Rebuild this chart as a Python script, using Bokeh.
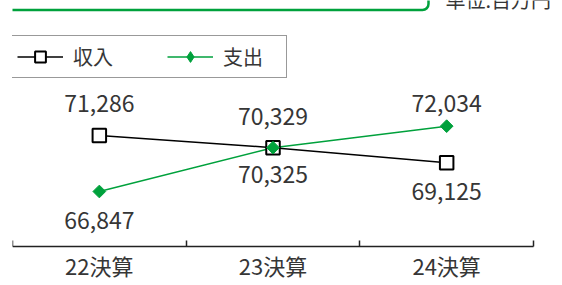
import math
from bokeh.plotting import figure
from bokeh.models import (Range1d, FixedTicker, ColumnDataSource, Legend, LegendItem,
                          BoxAnnotation, Label, LinearAxis)
from bokeh.core.properties import value
from bokeh.embed import file_html
from bokeh.resources import INLINE

# ---- data ----
categories = ["22決算", "23決算", "24決算"]
revenue = [71286, 70329, 69125]
expenditure = [66847, 70325, 72034]
series_names = ["収入", "支出"]
unit_label = "単位:百万円"

# label offsets (screen px, negative = above)
revenue_label_dy = [-32, -31, 29]
expenditure_label_dy = [29, 27, -23]

FONT = "Noto Sans CJK JP"
TEXT = "#363636"
GREEN = "#00a13c"

n = len(categories)
xs = [i + 0.5 for i in range(n)]
AXIS_PX = 521.0   # pixel length of the category axis
FRAME_PX = 550.0  # frame extends to the right edge so the unit label is not clipped
Y_MIN, Y_MAX = 59383, 82012
AXIS_Y = 62480    # where the category axis sits

p = figure(width=562, height=285, output_backend="svg", toolbar_location=None,
           x_range=Range1d(0, n * FRAME_PX / AXIS_PX), y_range=Range1d(Y_MIN, Y_MAX),
           x_axis_location=None, y_axis_location=None,
           min_border_left=12, min_border_right=0, min_border_top=0, min_border_bottom=0)
p.outline_line_color = None
p.xgrid.visible = False
p.ygrid.visible = False
p.background_fill_color = "white"
p.border_fill_color = "white"

ax = LinearAxis(fixed_location=AXIS_Y)
ax.bounds = (0, n)
ax.ticker = FixedTicker(ticks=xs, minor_ticks=list(range(n + 1)))
ax.major_label_overrides = {x: c for x, c in zip(xs, categories)}
ax.major_tick_line_color = None
ax.minor_tick_line_color = "#222222"
ax.minor_tick_line_width = 1.5
ax.minor_tick_in = 6
ax.minor_tick_out = 0
ax.major_tick_in = 0
ax.major_tick_out = 0
ax.axis_line_color = "#222222"
ax.axis_line_width = 1.5
ax.major_label_text_font = FONT
ax.major_label_text_font_size = "22px"
ax.major_label_text_color = TEXT
ax.major_label_standoff = 3
p.add_layout(ax, "below")

# lines
r_exp_line = p.line(xs, expenditure, line_color=GREEN, line_width=1.5)
r_rev_line = p.line(xs, revenue, line_color="black", line_width=1.5)
r_rev_pts = p.scatter(xs, revenue, marker="square", size=13.5, line_color="black",
                      line_width=2, fill_color="white")
# narrow diamond (hidden under the rotated squares) used as the legend glyph
r_exp_leg = p.scatter(xs, expenditure, marker="diamond", size=10, line_color=GREEN,
                      fill_color=GREEN)
r_exp_pts = p.scatter(xs, expenditure, marker="square", angle=math.pi / 4, size=9,
                      line_color=GREEN, fill_color=GREEN)

# data labels
src = ColumnDataSource(dict(
    x=xs + xs,
    y=revenue + expenditure,
    t=[f"{v:,}" for v in revenue + expenditure],
    dy=revenue_label_dy + expenditure_label_dy,
))
p.text(x="x", y="y", text="t", y_offset="dy", source=src,
       text_font=value(FONT), text_font_size="23px", text_color=TEXT,
       text_align="center", text_baseline="middle")

legend = Legend(items=[
    LegendItem(label=series_names[0], renderers=[r_rev_line, r_rev_pts]),
    LegendItem(label=series_names[1], renderers=[r_exp_line, r_exp_leg]),
], location=(-2, 207), orientation="horizontal",
    glyph_width=46, glyph_height=27, label_width=57, label_height=20,
    label_standoff=10, spacing=37, padding=6, margin=0,
    border_line_color="#333333", border_line_width=1.5,
    label_text_font=FONT, label_text_font_size="20px", label_text_color=TEXT,
    background_fill_alpha=1.0)
p.add_layout(legend)

# decorative green frame (cropped) and unit label
box = BoxAnnotation(left=-40, right=416, bottom=275.5, top=360,
                    left_units="screen", right_units="screen",
                    bottom_units="screen", top_units="screen",
                    fill_alpha=0, line_color=GREEN, line_alpha=1.0, line_width=2.5,
                    border_radius=6)
p.add_layout(box)
p.add_layout(Label(x=433, y=272, x_units="screen", y_units="screen", text=unit_label,
                   text_font=FONT, text_font_size="20px", text_color=TEXT,
                   text_baseline="bottom"))

open("out.html", "w").write(file_html(p, INLINE))
